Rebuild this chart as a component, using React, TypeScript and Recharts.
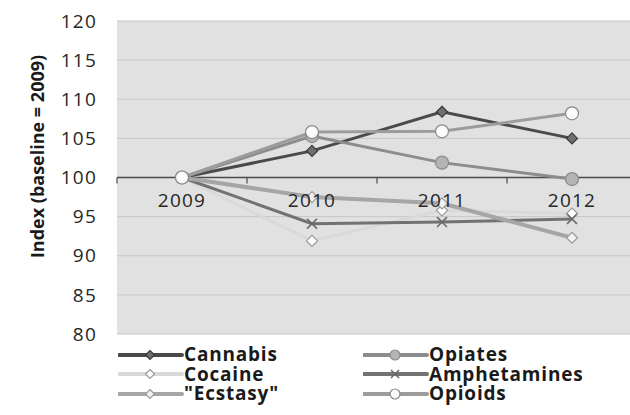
import React from 'react';
import { LineChart, Line, XAxis, YAxis, CartesianGrid, ReferenceLine, Legend } from 'recharts';

// index values per year, 2009 = 100
const years = ['2009', '2010', '2011', '2012'];
const cannabis = [100, 103.4, 108.4, 105.0];
const opiates = [100, 105.3, 101.9, 99.8];
const cocaine = [100, 91.9, 95.8, 95.4];
const amphetamines = [100, 94.1, 94.3, 94.7];
const ecstasy = [100, 97.5, 96.7, 92.3];
const opioids = [100, 105.8, 105.9, 108.2];
const yTicks = [80, 85, 90, 95, 100, 105, 110, 115, 120];

const Y_MIN = 80;
const Y_MAX = 120;
const BASELINE = 100;

const CHART_W = 640;
const CHART_H = 415;
const MARGIN = { top: 21, right: 3, left: 0, bottom: 0 };
const Y_AXIS_W = 117;
const X_AXIS_H = 81;
const PLOT_W = CHART_W - MARGIN.left - MARGIN.right - Y_AXIS_W;
const PLOT_H = CHART_H - MARGIN.top - MARGIN.bottom - X_AXIS_H;
const BAND = PLOT_W / years.length;
const BASE_Y = MARGIN.top + (PLOT_H * (Y_MAX - BASELINE)) / (Y_MAX - Y_MIN);

const FONT = '"Open Sans", "DejaVu Sans", sans-serif';

type Shape = 'diamond' | 'circle' | 'cross';

interface Series {
  key: string;
  name: string;
  values: number[];
  stroke: string;
  width: number;
  shape: Shape;
  fill: string;
  edge: string;
  size: number;
}

const series: Series[] = [
  { key: 'cannabis', name: 'Cannabis', values: cannabis, stroke: '#4a4a4a', width: 3, shape: 'diamond', fill: '#6f6f6f', edge: '#3a3a3a', size: 5.5 },
  { key: 'opiates', name: 'Opiates', values: opiates, stroke: '#8c8c8c', width: 3, shape: 'circle', fill: '#b4b4b4', edge: '#8c8c8c', size: 6.5 },
  { key: 'cocaine', name: 'Cocaine', values: cocaine, stroke: '#d9d9d9', width: 3, shape: 'diamond', fill: '#ffffff', edge: '#9a9a9a', size: 5.5 },
  { key: 'amphetamines', name: 'Amphetamines', values: amphetamines, stroke: '#727272', width: 3, shape: 'cross', fill: '#c0c0c0', edge: '#6a6a6a', size: 5.5 },
  { key: 'ecstasy', name: '"Ecstasy"', values: ecstasy, stroke: '#a6a6a6', width: 4, shape: 'diamond', fill: '#f2f2f2', edge: '#9a9a9a', size: 5.5 },
  { key: 'opioids', name: 'Opioids', values: opioids, stroke: '#9c9c9c', width: 3, shape: 'circle', fill: '#fbfbfb', edge: '#8a8a8a', size: 6.5 },
];

const data = years.map((year, i) => {
  const row: Record<string, string | number> = { year };
  series.forEach((s) => {
    row[s.key] = s.values[i];
  });
  return row;
});

function marker(s: Series, cx: number, cy: number, size: number, key?: string | number) {
  if (s.shape === 'circle') {
    return <circle key={key} cx={cx} cy={cy} r={size} fill={s.fill} stroke={s.edge} strokeWidth={1.2} />;
  }
  if (s.shape === 'diamond') {
    const pts = `${cx},${cy - size} ${cx + size},${cy} ${cx},${cy + size} ${cx - size},${cy}`;
    return <polygon key={key} points={pts} fill={s.fill} stroke={s.edge} strokeWidth={1.2} />;
  }
  const d = size * 0.9;
  return (
    <g key={key}>
      <line x1={cx - d} y1={cy - d} x2={cx + d} y2={cy + d} stroke={s.edge} strokeWidth={1.6} />
      <line x1={cx - d} y1={cy + d} x2={cx + d} y2={cy - d} stroke={s.edge} strokeWidth={1.6} />
    </g>
  );
}

// category labels and tick marks sit on the 100 baseline rather than at the plot bottom
const XTick = (props: any) => {
  const { x, payload, index } = props;
  const left = x - BAND / 2;
  return (
    <g>
      <line x1={left} y1={BASE_Y} x2={left} y2={BASE_Y + 6} stroke="#4a4a4a" strokeWidth={1.2} />
      {index === years.length - 1 && (
        <line x1={left + BAND} y1={BASE_Y} x2={left + BAND} y2={BASE_Y + 6} stroke="#4a4a4a" strokeWidth={1.2} />
      )}
      <text
        x={x}
        y={BASE_Y + 29}
        textAnchor="middle"
        fill="#262626"
        fontSize={19}
        letterSpacing={1.2}
        fontFamily={FONT}
      >
        {payload.value}
      </text>
    </g>
  );
};

const YLabel = (props: any) => {
  const vb = props.viewBox || { x: 0, y: MARGIN.top, height: PLOT_H };
  const cx = 37;
  const cy = vb.y + vb.height / 2 - 21;
  return (
    <text
      x={cx}
      y={cy}
      transform={`rotate(-90, ${cx}, ${cy})`}
      textAnchor="middle"
      dominantBaseline="central"
      fill="#1a1a1a"
      fontSize={18}
      fontWeight={700}
      fontFamily={FONT}
    >
      Index (baseline = 2009)
    </text>
  );
};

const LegendBox = () => (
  <div
    style={{
      display: 'grid',
      gridTemplateColumns: '245px 230px',
      fontFamily: FONT,
      fontWeight: 700,
      fontSize: 19,
      letterSpacing: 0.8,
      color: '#1a1a1a',
    }}
  >
    {series.map((s) => (
      <div key={s.key} style={{ display: 'flex', alignItems: 'center', height: 19.5 }}>
        <svg width={66} height={16} style={{ flex: 'none' }}>
          <line x1={1} y1={8} x2={64} y2={8} stroke={s.stroke} strokeWidth={4} strokeLinecap="round" />
          {marker(s, 32, 8, s.shape === 'circle' ? 5 : 4.5)}
        </svg>
        <span
          style={{
            display: 'block',
            marginLeft: 0,
            height: 19,
            lineHeight: '19px',
            whiteSpace: 'nowrap',
            overflow: 'visible',
          }}
        >
          {s.name}
        </span>
      </div>
    ))}
  </div>
);

export default function App() {
  return (
    <div style={{ position: 'absolute', left: 0, top: 0, width: 630, height: 415, overflow: 'hidden', background: '#fff' }}>
      <LineChart width={CHART_W} height={CHART_H} data={data} margin={MARGIN}>
        <CartesianGrid vertical={false} stroke="#c6c6c6" fill="#e1e1e1" />
        <YAxis
          domain={[Y_MIN, Y_MAX]}
          ticks={yTicks}
          width={Y_AXIS_W}
          axisLine={false}
          tickLine={false}
          tickSize={0}
          tickMargin={20}
          interval={0}
          tick={{ fill: '#262626', fontSize: 19, fontFamily: FONT, letterSpacing: 1.2 }}
          label={<YLabel />}
        />
        <XAxis
          dataKey="year"
          scale="band"
          height={X_AXIS_H}
          axisLine={false}
          tickLine={false}
          interval={0}
          tick={<XTick />}
        />
        <ReferenceLine y={BASELINE} stroke="#4a4a4a" strokeWidth={1.5} />
        {series.map((s) => (
          <Line
            key={s.key}
            dataKey={s.key}
            name={s.name}
            type="linear"
            stroke={s.stroke}
            strokeWidth={s.width}
            isAnimationActive={false}
            dot={(p: any) => marker(s, p.cx, p.cy, s.size, `${s.key}-${p.index}`)}
            activeDot={false}
          />
        ))}
        <Legend
          layout="vertical"
          align="center"
          verticalAlign="middle"
          content={<LegendBox />}
          wrapperStyle={{ position: 'absolute', left: 118, top: 345, width: 500, height: 60 }}
        />
      </LineChart>
    </div>
  );
}
